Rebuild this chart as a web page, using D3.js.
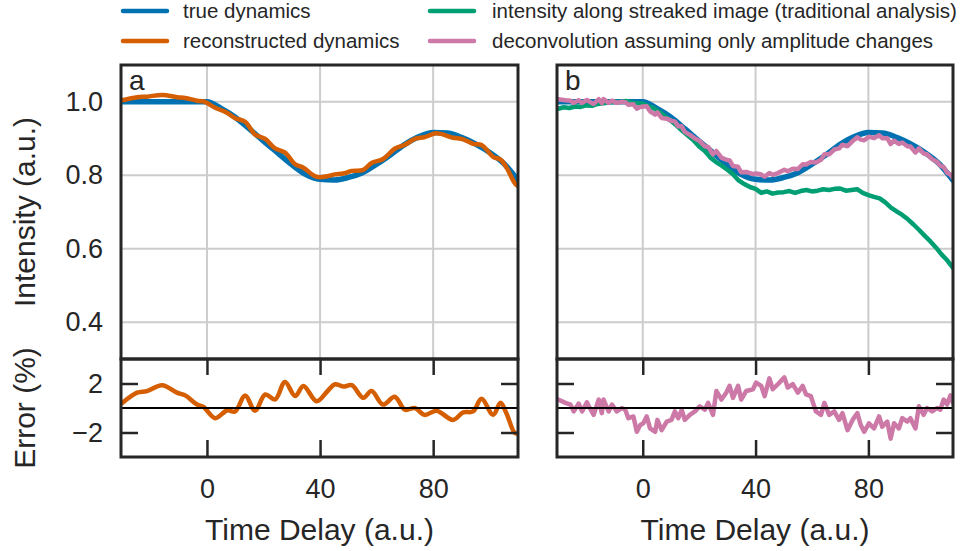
<!DOCTYPE html>
<html>
<head>
<meta charset="utf-8">
<script src="https://cdn.jsdelivr.net/npm/d3@7"></script>
<style>
  body { margin: 0; background: #fff; }
  svg { display: block; font-family: "Liberation Sans", Arial, sans-serif; }
</style>
</head>
<body>
<svg id="chart" width="963" height="551"></svg>
<script>
// true dynamics (same in both panels)
const trueT = [-30, -25, -20, -15, -10, -5, 0, 5, 10, 15, 20, 25, 30, 35, 40, 45, 50, 55, 60, 65, 70, 75, 80, 85, 90, 95, 100, 105, 110];
const trueI = [1, 1, 1, 1, 1, 1, 1, 0.982, 0.958, 0.926, 0.893, 0.861, 0.829, 0.802, 0.789, 0.787, 0.794, 0.807, 0.83, 0.856, 0.884, 0.905, 0.916, 0.915, 0.903, 0.885, 0.862, 0.832, 0.786];

// panel a: reconstructed dynamics and its error (%)
const reconT = [-30, -24.7, -21.2, -15.9, -10.6, -7.7, -3.5, -1.2, 2.9, 7.1, 10, 13.5, 17, 20.6, 24.1, 27.6, 31.2, 34.1, 38.8, 42.9, 45.3, 48.2, 51.2, 55.3, 58.2, 62.3, 66.4, 70, 73.5, 77, 81.2, 87, 90.6, 94.1, 97.1, 101.2, 103.8, 105.9, 108.8, 110];
const reconI = [1.004, 1.0125, 1.0138, 1.0186, 1.0125, 1.0103, 1.0028, 1.0008, 0.9838, 0.970, 0.9553, 0.9456, 0.911, 0.8988, 0.8731, 0.862, 0.830, 0.8205, 0.7954, 0.798, 0.8023, 0.8048, 0.8118, 0.8147, 0.8333, 0.8444, 0.872, 0.8828, 0.899, 0.9039, 0.914, 0.9022, 0.8978, 0.8855, 0.8826, 0.8502, 0.8425, 0.8215, 0.7789, 0.770];
const reconErr = [0.4, 1.25, 1.38, 1.86, 1.25, 1.03, 0.28, 0.08, -0.83, -0.2, -0.28, 1.03, -0.22, 1.1, 0.7, 2.13, 0.97, 1.8, 0.55, 1.45, 1.94, 1.75, 1.86, 0.83, 1.38, 0.28, 0.92, -0.14, 0, -0.56, -0.22, -0.97, -0.36, -0.28, 0.75, -0.56, 0.42, -0.42, -2.03, -2.1];

// panel b: intensity along streaked image
const streakT = [-30, -28, -26, -24, -22, -20, -18, -16, -14, -12, -10, -8, -6, -4, -2, 0, 2, 4, 6, 8, 10, 12, 14, 16, 18, 20, 22, 24, 26, 28, 30, 32, 34, 36, 38, 40, 42, 44, 46, 48, 50, 52, 54, 56, 58, 60, 62, 64, 66, 68, 70, 72, 74, 76, 78, 80, 82, 84, 86, 88, 90, 92, 94, 96, 98, 100, 102, 104, 106, 108, 110];
const streakI = [0.981, 0.985, 0.983, 0.987, 0.986, 0.990, 0.989, 0.994, 0.996, 0.998, 1.000, 0.999, 1.002, 0.998, 0.996, 0.995, 0.988, 0.982, 0.972, 0.960, 0.948, 0.935, 0.921, 0.908, 0.895, 0.878, 0.866, 0.848, 0.836, 0.826, 0.815, 0.803, 0.786, 0.776, 0.768, 0.763, 0.752, 0.756, 0.750, 0.753, 0.754, 0.757, 0.752, 0.757, 0.760, 0.756, 0.758, 0.762, 0.760, 0.763, 0.764, 0.758, 0.760, 0.762, 0.752, 0.746, 0.741, 0.737, 0.726, 0.712, 0.702, 0.692, 0.680, 0.666, 0.651, 0.635, 0.620, 0.603, 0.584, 0.568, 0.548];

// panel b: deconvolution assuming only amplitude changes, and its error (%)
const deconvT = [-30, -27.4, -25.6, -24.5, -22.7, -21.5, -19.8, -18.6, -17.4, -15.6, -14.5, -13.9, -12.1, -10.9, -9.2, -7.4, -6.2, -5.1, -3.3, -2.1, -0.9, 0.2, 1.4, 2.6, 4.4, 5.2, 6.7, 8.5, 10.2, 11.4, 12.6, 13.8, 14.9, 16.7, 18.5, 20.2, 22.0, 23.2, 24.9, 26.1, 27.9, 29.6, 30.8, 32.0, 33.8, 34.9, 36.7, 39.1, 40.2, 42.0, 43.2, 44.9, 46.1, 47.9, 50.2, 51.4, 53.2, 55.0, 56.7, 57.9, 59.6, 61.4, 63.2, 64.4, 66.1, 67.9, 69.6, 70.8, 72.6, 74.4, 76.1, 77.3, 78.5, 80.2, 82.0, 83.8, 84.9, 86.7, 87.9, 89.1, 90.8, 92.0, 93.8, 94.9, 96.7, 97.9, 99.6, 100.8, 102.6, 104.4, 105.5, 106.7, 107.9, 109.1, 110];
const deconvI = [1.007, 1.004, 1.003, 0.997, 1.004, 0.997, 1.005, 0.999, 0.994, 1.007, 0.996, 1.007, 0.997, 1.003, 0.997, 1.0, 0.999, 0.992, 0.993, 0.981, 0.986, 0.987, 0.988, 0.974, 0.965, 0.971, 0.956, 0.954, 0.948, 0.946, 0.933, 0.933, 0.918, 0.910, 0.900, 0.893, 0.879, 0.877, 0.857, 0.866, 0.848, 0.842, 0.840, 0.825, 0.823, 0.808, 0.809, 0.803, 0.805, 0.802, 0.796, 0.806, 0.801, 0.806, 0.815, 0.811, 0.818, 0.817, 0.830, 0.829, 0.836, 0.835, 0.842, 0.857, 0.857, 0.870, 0.873, 0.883, 0.879, 0.893, 0.903, 0.897, 0.895, 0.905, 0.901, 0.909, 0.901, 0.901, 0.885, 0.894, 0.885, 0.889, 0.879, 0.878, 0.862, 0.873, 0.859, 0.857, 0.844, 0.836, 0.826, 0.822, 0.807, 0.802, 0.793];
const deconvErr = [0.69, 0.42, 0.28, -0.28, 0.36, -0.28, 0.47, -0.08, -0.56, 0.69, -0.42, 0.69, -0.28, 0.28, -0.28, 0, -0.14, -0.83, -0.69, -1.94, -1.39, -1.25, -0.69, -1.67, -1.94, -0.97, -1.81, -1.11, -0.97, -0.28, -0.83, -0.14, -0.97, -0.56, -0.28, 0.14, -0.14, 0.42, -0.56, 1.39, 0.69, 1.25, 1.81, 0.83, 1.81, 0.69, 1.39, 1.53, 2.08, 1.81, 0.97, 2.42, 1.53, 1.94, 2.5, 1.67, 1.94, 1.25, 1.81, 1.11, 0.97, -0.28, -0.56, 0.42, -0.56, -0.28, -0.97, -0.42, -1.81, -0.97, -0.42, -1.39, -1.94, -1.25, -1.67, -0.69, -1.53, -1.11, -2.5, -1.25, -1.67, -0.83, -1.11, -0.83, -1.67, 0.14, -0.56, 0, -0.28, 0, -0.14, 0.69, 0.28, 1.03, 0.42];

// ticks
const xTicks = [0, 40, 80];
const yTicks = [0.4, 0.6, 0.8, 1.0];
const errTicks = [-2, 2];

const legendNames = ["true dynamics", "reconstructed dynamics",
    "intensity along streaked image (traditional analysis)",
    "deconvolution assuming only amplitude changes"];

const ink = "#262626";
const colors = ["#0072B2", "#D55E00", "#009E73", "#CC79A7"];

const svg = d3.select("#chart");
const defs = svg.append("defs");

// shared vertical layout
const panelTop = 65, panelMid = 359, panelBottom = 457;

function styleAxis(sel, fontSize) {
    sel.select(".domain").remove();
    sel.selectAll(".tick line").attr("stroke", ink).attr("stroke-width", 2.5);
    sel.selectAll(".tick text").attr("fill", ink).attr("font-size", fontSize)
        .attr("font-family", "'Liberation Sans', Arial, sans-serif");
}

function drawPanel(p) {
    const g = svg.append("g");
    const x = d3.scaleLinear().domain([-30.4, 110]).range([p.left, p.right]);
    const y = d3.scaleLinear().domain([0.3, 1.1]).range([panelMid, panelTop]);
    const ye = d3.scaleLinear().domain([-4, 4]).range([panelBottom, panelMid]);

    defs.append("clipPath").attr("id", "clipTop_" + p.name)
        .append("rect").attr("x", p.left).attr("y", panelTop)
        .attr("width", p.right - p.left).attr("height", panelMid - panelTop);
    defs.append("clipPath").attr("id", "clipErr_" + p.name)
        .append("rect").attr("x", p.left).attr("y", panelMid)
        .attr("width", p.right - p.left).attr("height", panelBottom - panelMid);

    // grid lines in the intensity panel
    g.append("g").selectAll("line").data(xTicks).join("line")
        .attr("x1", d => x(d)).attr("x2", d => x(d))
        .attr("y1", panelTop).attr("y2", panelMid)
        .attr("stroke", "#cccccc").attr("stroke-width", 2);
    g.append("g").selectAll("line").data(yTicks).join("line")
        .attr("x1", p.left).attr("x2", p.right)
        .attr("y1", d => y(d)).attr("y2", d => y(d))
        .attr("stroke", "#cccccc").attr("stroke-width", 2);

    // intensity curves
    p.series.forEach(s => {
        g.append("path")
            .datum(d3.zip(s.t, s.v))
            .attr("clip-path", "url(#clipTop_" + p.name + ")")
            .attr("fill", "none")
            .attr("stroke", s.color)
            .attr("stroke-width", s.width)
            .attr("stroke-linejoin", "round")
            .attr("stroke-linecap", "round")
            .attr("d", d3.line().x(d => x(d[0])).y(d => y(d[1])).curve(s.curve));
    });

    // error curve
    g.append("path")
        .datum(d3.zip(p.err.t, p.err.v))
        .attr("clip-path", "url(#clipErr_" + p.name + ")")
        .attr("fill", "none")
        .attr("stroke", p.err.color)
        .attr("stroke-width", 4.5)
        .attr("stroke-linejoin", "round")
        .attr("stroke-linecap", "round")
        .attr("d", d3.line().x(d => x(d[0])).y(d => ye(d[1])).curve(p.err.curve));

    // zero line
    g.append("line")
        .attr("x1", p.left).attr("x2", p.right)
        .attr("y1", ye(0)).attr("y2", ye(0))
        .attr("stroke", "#000").attr("stroke-width", 2);

    // axes
    if (p.yLabels) {
        const ay = g.append("g").attr("transform", "translate(" + p.left + ",0)")
            .call(d3.axisLeft(y).tickValues(yTicks).tickSize(0).tickPadding(18).tickFormat(d3.format(".1f")));
        styleAxis(ay, 27);
    }
    const ael = g.append("g").attr("transform", "translate(" + p.left + ",0)")
        .call(d3.axisLeft(ye).tickValues(errTicks).tickSize(-17).tickPadding(18)
            .tickFormat(p.yLabels ? d3.format("d") : ""));
    styleAxis(ael, 27);
    const aer = g.append("g").attr("transform", "translate(" + p.right + ",0)")
        .call(d3.axisRight(ye).tickValues(errTicks).tickSize(-17).tickFormat(""));
    styleAxis(aer, 27);
    const aet = g.append("g").attr("transform", "translate(0," + panelMid + ")")
        .call(d3.axisTop(x).tickValues(xTicks).tickSize(-16).tickFormat(""));
    styleAxis(aet, 27);
    const aeb = g.append("g").attr("transform", "translate(0," + panelBottom + ")")
        .call(d3.axisBottom(x).tickValues(xTicks).tickSize(-17).tickPadding(22));
    styleAxis(aeb, 27);

    // frames
    g.append("rect").attr("x", p.left).attr("y", panelTop)
        .attr("width", p.right - p.left).attr("height", panelMid - panelTop)
        .attr("fill", "none").attr("stroke", ink).attr("stroke-width", 3);
    g.append("rect").attr("x", p.left).attr("y", panelMid)
        .attr("width", p.right - p.left).attr("height", panelBottom - panelMid)
        .attr("fill", "none").attr("stroke", ink).attr("stroke-width", 3);

    // panel letter
    g.append("text").attr("x", p.left + 8).attr("y", panelTop + 25)
        .attr("font-size", 28).attr("fill", ink).text(p.name);

    // x axis title
    g.append("text").attr("x", (p.left + p.right) / 2).attr("y", 540)
        .attr("text-anchor", "middle").attr("font-size", 30).attr("fill", ink)
        .text("Time Delay (a.u.)");
}

drawPanel({
    name: "a", left: 121, right: 518, yLabels: true,
    series: [
        {t: trueT, v: trueI, color: colors[0], width: 5.5, curve: d3.curveMonotoneX},
        {t: reconT, v: reconI, color: colors[1], width: 4.5, curve: d3.curveCatmullRom}
    ],
    err: {t: reconT, v: reconErr, color: colors[1], curve: d3.curveCatmullRom}
});

drawPanel({
    name: "b", left: 557, right: 953, yLabels: false,
    series: [
        {t: trueT, v: trueI, color: colors[0], width: 5.5, curve: d3.curveMonotoneX},
        {t: streakT, v: streakI, color: colors[2], width: 4.5, curve: d3.curveLinear},
        {t: deconvT, v: deconvI, color: colors[3], width: 4.5, curve: d3.curveLinear}
    ],
    err: {t: deconvT, v: deconvErr, color: colors[3], curve: d3.curveLinear}
});

// y axis titles
svg.append("text")
    .attr("transform", "translate(35," + (panelTop + panelMid) / 2 + ") rotate(-90)")
    .attr("text-anchor", "middle").attr("font-size", 30).attr("fill", ink)
    .text("Intensity (a.u.)");
svg.append("text")
    .attr("transform", "translate(35," + (panelMid + panelBottom) / 2 + ") rotate(-90)")
    .attr("text-anchor", "middle").attr("font-size", 30).attr("fill", ink)
    .text("Error (%)");

// legend, two columns filled top to bottom
const legendPos = [
    {lx: 123, tx: 183, y: 11},
    {lx: 123, tx: 183, y: 41},
    {lx: 430, tx: 492, y: 11},
    {lx: 430, tx: 492, y: 41}
];
const legend = svg.append("g");
const items = legend.selectAll("g").data(legendNames).join("g");
items.append("line")
    .attr("x1", (d, i) => legendPos[i].lx).attr("x2", (d, i) => legendPos[i].lx + 44)
    .attr("y1", (d, i) => legendPos[i].y).attr("y2", (d, i) => legendPos[i].y)
    .attr("stroke", (d, i) => colors[i]).attr("stroke-width", 4.5)
    .attr("stroke-linecap", "round");
items.append("text")
    .attr("x", (d, i) => legendPos[i].tx).attr("y", (d, i) => legendPos[i].y + 7)
    .attr("font-size", 20.5).attr("fill", ink)
    .text(d => d);
</script>
</body>
</html>
